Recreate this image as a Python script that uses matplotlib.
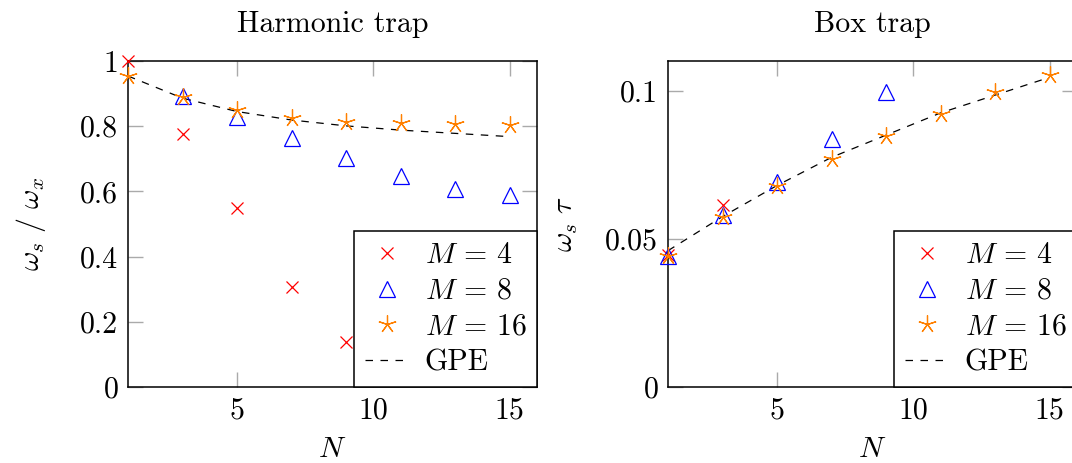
import matplotlib
matplotlib.use("Agg")
import matplotlib.pyplot as plt
from matplotlib.ticker import FixedLocator

plt.rcParams['font.family'] = 'serif'
plt.rcParams['font.serif'] = ['cmr10']
plt.rcParams['mathtext.fontset'] = 'cm'
plt.rcParams['axes.unicode_minus'] = False
plt.rcParams['axes.formatter.use_mathtext'] = True

# ---------------- data ----------------
N_all = [1, 3, 5, 7, 9, 11, 13, 15]

# Harmonic trap
h_N4 = [1, 3, 5, 7, 9]
h_M4 = [1.0, 0.775, 0.548, 0.308, 0.139]
h_N8 = [3, 5, 7, 9, 11, 13, 15]
h_M8 = [0.893, 0.827, 0.763, 0.701, 0.647, 0.606, 0.589]
h_N16 = N_all
h_M16 = [0.954, 0.889, 0.850, 0.824, 0.814, 0.809, 0.807, 0.804]
h_Ngpe = N_all
h_gpe = [0.954, 0.886, 0.845, 0.819, 0.801, 0.788, 0.778, 0.768]

# Box trap
b_N4 = [1, 3]
b_M4 = [0.0445, 0.0614]
b_N8 = [1, 3, 5, 7, 9]
b_M8 = [0.0442, 0.0580, 0.0692, 0.0836, 0.0996]
b_N16 = N_all
b_M16 = [0.0443, 0.0574, 0.0679, 0.0771, 0.0847, 0.0920, 0.0996, 0.1054]
b_Ngpe = N_all
b_gpe = [0.0460, 0.0575, 0.0680, 0.0775, 0.0850, 0.0925, 0.0985, 0.1045]

x_ticks = [5, 10, 15]
h_yticks = [0, 0.2, 0.4, 0.6, 0.8, 1]
h_ylabels = ['0', '0.2', '0.4', '0.6', '0.8', '1']
b_yticks = [0, 0.05, 0.1]
b_ylabels = ['0', '0.05', '0.1']
legend_labels = [r'$M\,=\,4$', r'$M\,=\,8$', r'$M\,=\,16$', 'GPE']

RED = (1, 0, 0)
BLUE = (0, 0, 1)
ORANGE = (1, 0.5, 0)
FS = 21.5
TFS = 21.5

W, H = 1072, 463
fig = plt.figure(figsize=(W / 100, H / 100), dpi=100)

def ax_rect(x0, y0, x1, y1):
    return [x0 / W, 1 - y1 / H, (x1 - x0) / W, (y1 - y0) / H]

ax1 = fig.add_axes(ax_rect(128, 61, 537, 387))
ax2 = fig.add_axes(ax_rect(668, 61, 1077, 387))

star = (5, 2, 0)

def draw(ax, N4, M4, N8, M8, N16, M16, Ng, G):
    ax.plot(N4, M4, linestyle='none', marker='x', ms=9, mew=0.9,
            color=RED, label=legend_labels[0], clip_on=False, zorder=3)
    ax.plot(N8, M8, linestyle='none', marker='^', ms=11, mew=0.9,
            mfc='none', mec=BLUE, color=BLUE, label=legend_labels[1], clip_on=False, zorder=3)
    ax.plot(N16, M16, linestyle='none', marker=star, ms=13, mew=0.9,
            color=ORANGE, label=legend_labels[2], clip_on=False, zorder=3)
    ax.plot(Ng, G, color='black', lw=0.9, dashes=(6, 6), label=legend_labels[3], zorder=2)
    ax.set_xlim(1, 16)
    ax.xaxis.set_major_locator(FixedLocator(x_ticks))
    ax.set_xticklabels([str(t) for t in x_ticks])
    ax.tick_params(direction='in', length=11, width=1, color='#aaaaaa',
                   top=True, right=True, labelsize=FS, pad=7)
    for s in ax.spines.values():
        s.set_linewidth(1.1)
    ax.set_xlabel(r'$N$', fontsize=FS, labelpad=8)
    leg = ax.legend(loc='lower right', bbox_to_anchor=(1, 0), borderaxespad=0,
                    fancybox=False, framealpha=1, edgecolor='black',
                    fontsize=FS, handlelength=1.45, handletextpad=0.55,
                    labelspacing=0.28, borderpad=0.35)
    leg.get_frame().set_linewidth(1.1)

draw(ax1, h_N4, h_M4, h_N8, h_M8, h_N16, h_M16, h_Ngpe, h_gpe)
ax1.set_ylim(0, 1)
ax1.yaxis.set_major_locator(FixedLocator(h_yticks))
ax1.set_yticklabels(h_ylabels)
ax1.set_ylabel(r'$\omega_s\ /\ \omega_x$', fontsize=FS, labelpad=23)
ax1.set_title('Harmonic trap', fontsize=TFS, pad=21)

draw(ax2, b_N4, b_M4, b_N8, b_M8, b_N16, b_M16, b_Ngpe, b_gpe)
ax2.set_ylim(0, 0.11)
ax2.yaxis.set_major_locator(FixedLocator(b_yticks))
ax2.set_yticklabels(b_ylabels)
ax2.set_ylabel(r'$\omega_s\ \tau$', fontsize=FS, labelpad=18)
ax2.set_title('Box trap', fontsize=TFS, pad=21)

fig.savefig('out.png', dpi=100)
